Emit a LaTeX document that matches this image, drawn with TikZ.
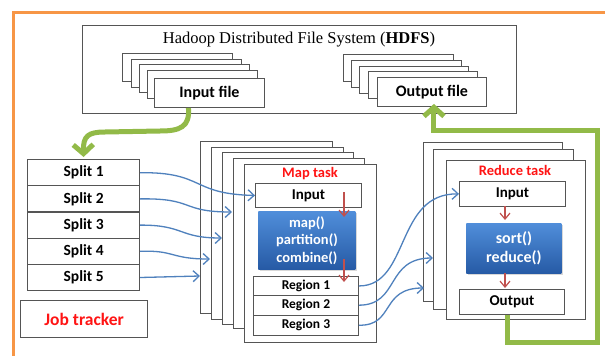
\documentclass[tikz,border=0pt]{standalone}
\usepackage{fontspec}
\setmainfont{Carlito}
\newfontfamily\tnr{Liberation Serif}
\usetikzlibrary{arrows.meta,shadows}
\definecolor{orangeframe}{RGB}{247,150,70}
\definecolor{greenarr}{RGB}{146,186,72}
\definecolor{bluearr}{RGB}{79,129,189}
\definecolor{redarr}{RGB}{192,80,77}
\definecolor{boxline}{RGB}{85,85,85}
\definecolor{bluetop}{RGB}{80,142,218}
\definecolor{bluebot}{RGB}{38,90,165}
\definecolor{lblred}{RGB}{255,20,20}
\begin{document}
\begin{tikzpicture}[x=1pt,y=-1pt,
  box/.style={draw=boxline, line width=0.9pt, fill=white, inner sep=0pt, anchor=north west},
  wh/.style 2 args={minimum width=#1pt, minimum height=#2pt},
  lbl/.style={font=\fontsize{#1}{#1}\selectfont\bfseries},
  redlbl/.style={font=\fontsize{#1}{#1}\selectfont\bfseries, text=lblred},
  bluebox/.style={box, draw=none, top color=bluetop, bottom color=bluebot, text=white, align=center,
    drop shadow={opacity=0.3, shadow xshift=1.5pt, shadow yshift=-1.5pt}},
  bluearrow/.style={draw=bluearr, line width=1.3pt, -{Straight Barb[length=6pt,width=11pt]}},
  redarrow/.style={draw=redarr, line width=1.2pt, -{Straight Barb[length=6pt,width=10pt]}},
  greenline/.style={draw=greenarr, line width=5pt, -{Straight Barb[length=9pt,width=20pt]}},
]
\useasboundingbox (0,0) rectangle (605,356);
\fill[white] (0,0) rectangle (605,356);
% orange frame
\draw[orangeframe, line width=3pt] (13,360) -- (13,12) -- (610,12);

% HDFS
\node[box, wh={434}{88}] (hdfs) at (82,25) {};
\node[font=\tnr\fontsize{16.5}{19}\selectfont] (title) at (299,40) {Hadoop Distributed File System (\textbf{HDFS})};
% input file stack
\node[box, wh={110}{28}] (ib1) at (122,53) {};
\node[box, wh={110}{28}] (ib2) at (131,59) {};
\node[box, wh={110}{28}] (ib3) at (139,64) {};
\node[box, wh={110}{28}] (ib4) at (147,70) {};
\node[box, wh={110}{29}, lbl=16] (ifile) at (154,78) {Input file};
% output file stack
\node[box, wh={110}{27}] (ob1) at (343,54) {};
\node[box, wh={110}{27}] (ob2) at (351,60) {};
\node[box, wh={109}{27}] (ob3) at (359,66) {};
\node[box, wh={109}{27}] (ob4) at (368,71) {};
\node[box, wh={109}{29}, lbl=16] (ofile) at (377,77) {Output file};

% splits
\node[box, wh={112}{26.2}, lbl=15.5, line width=1.2pt] (s1) at (27,159) {Split 1};
\node[box, wh={112}{26.2}, lbl=15.5, line width=1.2pt] (s2) at (27,185.2) {Split 2};
\node[box, wh={112}{26.2}, lbl=15.5, line width=1.2pt] (s3) at (27,211.4) {Split 3};
\node[box, wh={112}{26.2}, lbl=15.5, line width=1.2pt] (s4) at (27,237.6) {Split 4};
\node[box, wh={112}{26.2}, lbl=15.5, line width=1.2pt] (s5) at (27,263.8) {Split 5};
% job tracker
\node[box, wh={127}{37}, redlbl=17.5, line width=1.2pt] (jt) at (20,300) {Job tracker};

% map stack
\node[box, wh={132}{172}] (mb1) at (200,141) {};
\node[box, wh={132}{172}] (mb2) at (211,147) {};
\node[box, wh={131}{172}] (mb3) at (222,152) {};
\node[box, wh={131}{170}] (mb4) at (233,158) {};
\node[box, wh={132}{178}] (mfront) at (244,164) {};
\node[redlbl=14.5] (mlabel) at (310,174) {Map task};
\node[box, wh={106}{24}, lbl=15] (minput) at (255,183) {Input};
\node[bluebox, wh={97}{58}, font=\fontsize{14.5}{17.5}\selectfont\bfseries] (mfun) at (258,211) {map()\\partition()\\combine()};
\node[box, wh={105}{19}, lbl=13.5] (r1) at (253,276) {Region 1};
\node[box, wh={105}{19.5}, lbl=13.5] (r2) at (253,295) {Region 2};
\node[box, wh={105}{20.5}, lbl=13.5] (r3) at (253,314.5) {Region 3};

% reduce stack
\node[box, wh={139}{159}] (rb1) at (423,142) {};
\node[box, wh={140}{160}] (rb2) at (433,149) {};
\node[box, wh={139}{159}] (rfront) at (446,160) {};
\node[redlbl=14.5] (rlabel) at (515,170) {Reduce task};
\node[box, wh={106}{25}, lbl=15] (rin) at (459,181) {Input};
\node[bluebox, wh={95}{50}, font=\fontsize{16}{19}\selectfont\bfseries] (rfun) at (466,223) {sort()\\reduce()};
\node[box, wh={105}{25}, lbl=15] (rout) at (459,289) {Output};

% red arrows
\coordinate (ma1) at (344,192);
\coordinate (ma2) at (344,217);
\coordinate (ma3) at (344,259);
\coordinate (ma4) at (344,282);
\coordinate (ra1) at (505,206);
\coordinate (ra2) at (505,220);
\coordinate (ra3) at (505,273);
\coordinate (ra4) at (505,288);
\draw[redarrow] (ma1) -- (ma2);
\draw[redarrow] (ma3) -- (ma4);
\draw[redarrow] (ra1) -- (ra2);
\draw[redarrow] (ra3) -- (ra4);

% blue arrows from splits
\coordinate (t2) at (232,212);
\coordinate (t3) at (222,238);
\coordinate (t4) at (210,259);
\coordinate (t5) at (200,276);
\draw[bluearrow] (s1.east) .. controls (205,172) and (190,194) .. (minput.west);
\draw[bluearrow] (s2.east) .. controls (195,198) and (180,212) .. (t2);
\draw[bluearrow] (s3.east) .. controls (185,225) and (178,238) .. (t3);
\draw[bluearrow] (s4.east) .. controls (175,250) and (170,259) .. (t4);
\draw[bluearrow] (s5.east) -- (t5);

% blue arrows from regions
\coordinate (u2) at (433,258);
\coordinate (u3) at (424,288);
\draw[bluearrow] (r1.east) .. controls (410,286) and (395,193) .. (rin.west);
\draw[bluearrow] (r2.east) .. controls (400,305) and (385,258) .. (u2);
\draw[bluearrow] (r3.east) .. controls (395,326) and (380,288) .. (u3);

% green arrows
\draw[greenline] ([xshift=-21pt]ifile.south) .. controls (190,127) and (180,131) .. (160,131)
   -- (105,132) .. controls (88,132) and (83,136) .. ([yshift=2pt]s1.north);
\coordinate (gc1) at (597,342);
\coordinate (gc2) at (597,130);
\draw[greenline] ([xshift=-4pt]rout.south) |- (gc1) -- (gc2) -| ([xshift=2pt,yshift=3pt]ofile.south);
\end{tikzpicture}
\end{document}
